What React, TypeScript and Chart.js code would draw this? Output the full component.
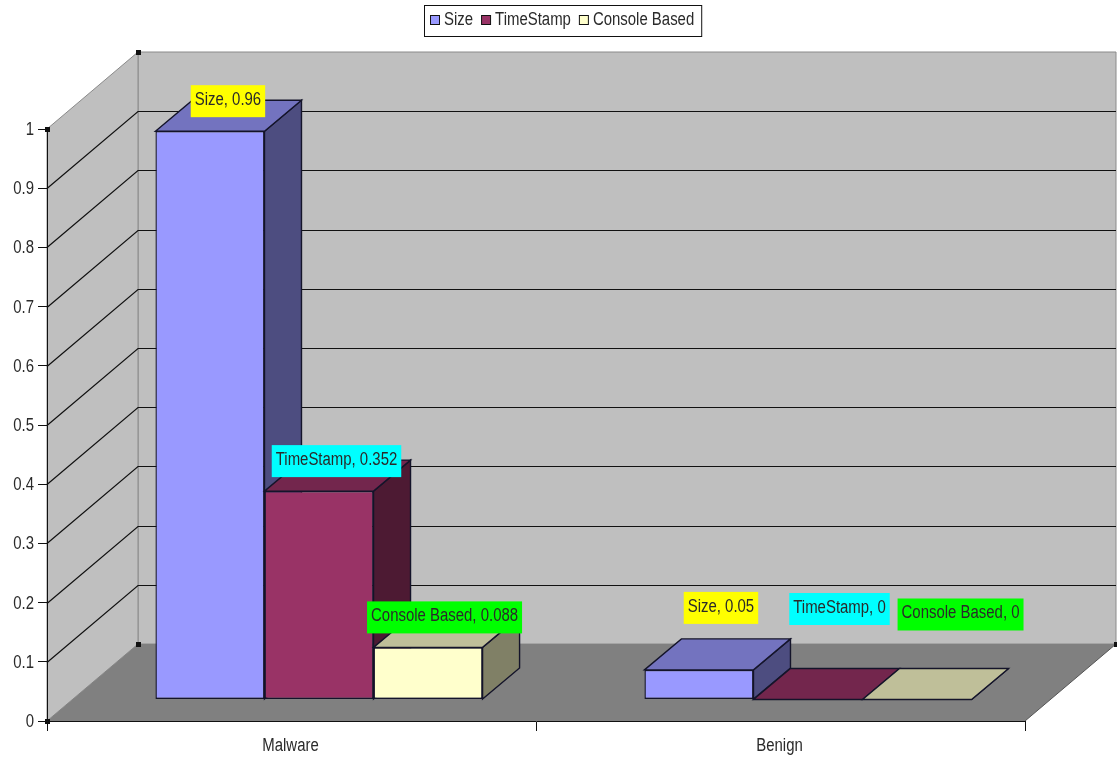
import React, { useEffect, useRef } from "react";
import { Chart, registerables } from "chart.js";

Chart.register(...registerables);

// Chart data
const categories = ["Malware", "Benign"];
const seriesNames = ["Size", "TimeStamp", "Console Based"];
const sizeValues = [0.96, 0.05];
const timeStampValues = [0.352, 0];
const consoleBasedValues = [0.088, 0];
const yTickStep = 0.1;

// Series and label colours
const seriesFills = ["#9999FF", "#993366", "#FFFFCC"];
const labelFills = ["#FFFF00", "#00FFFF", "#00FF00"];

// 3D projection, in pixels
const WALL_DEPTH = { x: 91, y: -77 };
const BAR_PLANE = { x: 27.5, y: -21.5 };
const BAR_DEPTH = { x: 37, y: -31 };

// Hand placement of each value label, per series then per category
const labelNudges = [
  [[-0.5, 0], [3.5, -32]],
  [[-1, 0], [13, -60.5]],
  [[-2, 0], [25, -55]],
];

const FONT = '18px "Liberation Sans", Arial, sans-serif';
const TEXT_SQUEEZE = 0.83;
const INK = "#2a2a2a";
const LINE = "#14142a";

function shade(hex: string, k: number) {
  const n = parseInt(hex.slice(1), 16);
  const c = [(n >> 16) & 255, (n >> 8) & 255, n & 255].map((v) => Math.round(v * k));
  return `rgb(${c[0]},${c[1]},${c[2]})`;
}

function poly(ctx: CanvasRenderingContext2D, pts: number[][], fill: string | null, stroke: string | null, lw = 1) {
  ctx.beginPath();
  pts.forEach(([x, y], i) => (i ? ctx.lineTo(x, y) : ctx.moveTo(x, y)));
  ctx.closePath();
  if (fill) {
    ctx.fillStyle = fill;
    ctx.fill();
  }
  if (stroke) {
    ctx.strokeStyle = stroke;
    ctx.lineWidth = lw;
    ctx.stroke();
  }
}

// Tall, narrow chart lettering
function squeezedWidth(ctx: CanvasRenderingContext2D, text: string) {
  return ctx.measureText(text).width * TEXT_SQUEEZE;
}

function squeezedText(ctx: CanvasRenderingContext2D, text: string, x: number, y: number, align: CanvasTextAlign) {
  ctx.save();
  ctx.font = FONT;
  ctx.fillStyle = INK;
  ctx.textBaseline = "middle";
  ctx.textAlign = align;
  ctx.translate(x, y);
  ctx.scale(TEXT_SQUEEZE, 1);
  ctx.fillText(text, 0, 0);
  ctx.restore();
}

// Side wall, back wall, floor and their gridlines
const wallsPlugin = {
  id: "walls",
  beforeDraw(chart: any) {
    const { ctx, chartArea: a, scales } = chart;
    const dx = WALL_DEPTH.x;
    const dy = WALL_DEPTH.y;
    ctx.save();
    ctx.fillStyle = "#fff";
    ctx.fillRect(0, 0, chart.width, chart.height);

    const wallFill = "#BFBFBF";
    const edge = "#8a8a8a";
    poly(ctx, [[a.left + dx, a.top + dy], [a.right + dx, a.top + dy], [a.right + dx, a.bottom + dy], [a.left + dx, a.bottom + dy]], wallFill, edge);
    poly(ctx, [[a.left, a.top], [a.left + dx, a.top + dy], [a.left + dx, a.bottom + dy], [a.left, a.bottom]], wallFill, edge);
    poly(ctx, [[a.left, a.bottom], [a.right, a.bottom], [a.right + dx, a.bottom + dy], [a.left + dx, a.bottom + dy]], "#808080", null);

    ctx.strokeStyle = "#111";
    ctx.lineWidth = 1.2;
    scales.y.ticks.forEach((t: any) => {
      if (t.value <= 0 || t.value >= 1) return;
      const y = Math.round(scales.y.getPixelForValue(t.value)) + 0.5;
      ctx.beginPath();
      ctx.moveTo(a.left, y);
      ctx.lineTo(a.left + dx, y + dy);
      ctx.lineTo(a.right + dx, y + dy);
      ctx.stroke();
    });

    ctx.strokeStyle = "#555";
    ctx.lineWidth = 1;
    ctx.beginPath();
    ctx.moveTo(a.right, a.bottom);
    ctx.lineTo(a.right + dx, a.bottom + dy);
    ctx.stroke();

    // Corner handles of the plot
    ctx.fillStyle = "#111";
    [[a.left + dx, a.top + dy], [a.left, a.top], [a.left + dx, a.bottom + dy], [a.right + dx, a.bottom + dy], [a.left, a.bottom]].forEach(([x, y]) =>
      ctx.fillRect(x - 2, y - 2, 5, 5)
    );
    ctx.restore();
  },
};

// Bars are extruded in series order so that each one overlaps the side of its neighbour
const barsPlugin = {
  id: "bars3d",
  beforeDatasetsDraw(chart: any) {
    const { ctx } = chart;
    ctx.save();
    ctx.translate(BAR_PLANE.x, BAR_PLANE.y);
    categories.forEach((_, catIndex) => {
      chart.data.datasets.forEach((ds: any, dsIndex: number) => {
        const bar = chart.getDatasetMeta(dsIndex).data[catIndex];
        const { x, y, base, width } = bar.getProps(["x", "y", "base", "width"], true);
        const l = x - width / 2;
        const r = x + width / 2;
        const fill = seriesFills[dsIndex];
        poly(ctx, [[r, y], [r + BAR_DEPTH.x, y + BAR_DEPTH.y], [r + BAR_DEPTH.x, base + BAR_DEPTH.y], [r, base]], shade(fill, 0.5), LINE, 1.4);
        poly(ctx, [[l, y], [r, y], [r + BAR_DEPTH.x, y + BAR_DEPTH.y], [l + BAR_DEPTH.x, y + BAR_DEPTH.y]], shade(fill, 0.75), LINE, 1.4);
        bar.draw(ctx);
      });
    });
    ctx.restore();
    return false;
  },
};

// Axis labels, value labels on coloured plates, and the boxed legend
const labelsPlugin = {
  id: "plates",
  afterDraw(chart: any) {
    const { ctx, scales, chartArea } = chart;
    ctx.save();
    ctx.font = FONT;

    scales.y.ticks.forEach((t: any) => {
      squeezedText(ctx, t.label, 34, scales.y.getPixelForValue(t.value) + 1, "right");
    });
    scales.x.ticks.forEach((t: any, i: number) => {
      squeezedText(ctx, t.label, scales.x.getPixelForTick(i) - 1, chartArea.bottom + 25, "center");
    });

    chart.data.datasets.forEach((ds: any, dsIndex: number) => {
      ds.data.forEach((value: number, catIndex: number) => {
        const bar = chart.getDatasetMeta(dsIndex).data[catIndex];
        const { x, y } = bar.getProps(["x", "y"], true);
        const [nx, ny] = labelNudges[dsIndex][catIndex];
        const text = `${ds.label}, ${value}`;
        const w = squeezedWidth(ctx, text) + 8;
        const h = 32;
        const cx = x + BAR_PLANE.x + BAR_DEPTH.x / 2 + nx;
        const cy = y + BAR_PLANE.y + BAR_DEPTH.y / 2 - 14.5 + ny;
        ctx.fillStyle = labelFills[dsIndex];
        ctx.fillRect(cx - w / 2, cy - h / 2, w, h);
        squeezedText(ctx, text, cx, cy - 1, "center");
      });
    });

    let cursor = 430;
    const legendY = 20;
    const entries: [string, string, number, number][] = [];
    seriesNames.forEach((name, i) => {
      entries.push([name, seriesFills[i], cursor, cursor + 14]);
      cursor += 14 + squeezedWidth(ctx, name) + 8;
    });
    const legendRight = cursor - 8 + 7;
    ctx.fillStyle = "#fff";
    ctx.strokeStyle = "#111";
    ctx.lineWidth = 1;
    ctx.fillRect(424.5, 5.5, legendRight - 424, 31);
    ctx.strokeRect(424.5, 5.5, legendRight - 424, 31);
    entries.forEach(([name, fill, bx, tx]) => {
      ctx.fillStyle = fill;
      ctx.fillRect(bx + 0.5, legendY - 4.5, 9, 9);
      ctx.strokeStyle = "#111";
      ctx.strokeRect(bx + 0.5, legendY - 4.5, 9, 9);
      squeezedText(ctx, name, tx, legendY, "left");
    });
    ctx.restore();
  },
};

export default function App() {
  const canvasRef = useRef<HTMLCanvasElement>(null);

  useEffect(() => {
    const values = [sizeValues, timeStampValues, consoleBasedValues];
    const chart = new Chart(canvasRef.current as HTMLCanvasElement, {
      type: "bar",
      data: {
        labels: categories,
        datasets: seriesNames.map((label, i) => ({
          label,
          data: values[i],
          backgroundColor: seriesFills[i],
          borderColor: LINE,
          borderWidth: 1.4,
          borderSkipped: false,
          categoryPercentage: 0.669,
          barPercentage: 1,
        })),
      },
      options: {
        animation: false,
        responsive: false,
        layout: { padding: { top: 129, right: 92, left: 0, bottom: 0 } },
        plugins: { legend: { display: false }, tooltip: { enabled: false } },
        scales: {
          x: {
            afterFit(scale: any) {
              scale.height = 36;
            },
            border: { color: "#111", width: 1 },
            grid: { drawOnChartArea: false, drawTicks: true, tickLength: 10, color: "#111" },
            ticks: { display: false, maxRotation: 0 },
          },
          y: {
            min: 0,
            max: 1,
            afterFit(scale: any) {
              scale.width = 47;
            },
            border: { color: "#111", width: 1 },
            grid: { drawOnChartArea: false, drawTicks: true, tickLength: 9, color: "#111" },
            ticks: {
              display: false,
              stepSize: yTickStep,
              callback: (v: any) => String(Math.round(Number(v) * 10) / 10),
            },
          },
        },
      },
      plugins: [wallsPlugin, barsPlugin, labelsPlugin],
    });
    return () => chart.destroy();
  }, []);

  return (
    <div style={{ position: "absolute", left: 0, top: 0, width: 1117, height: 757 }}>
      <canvas ref={canvasRef} width={1117} height={757} style={{ display: "block" }} />
    </div>
  );
}
